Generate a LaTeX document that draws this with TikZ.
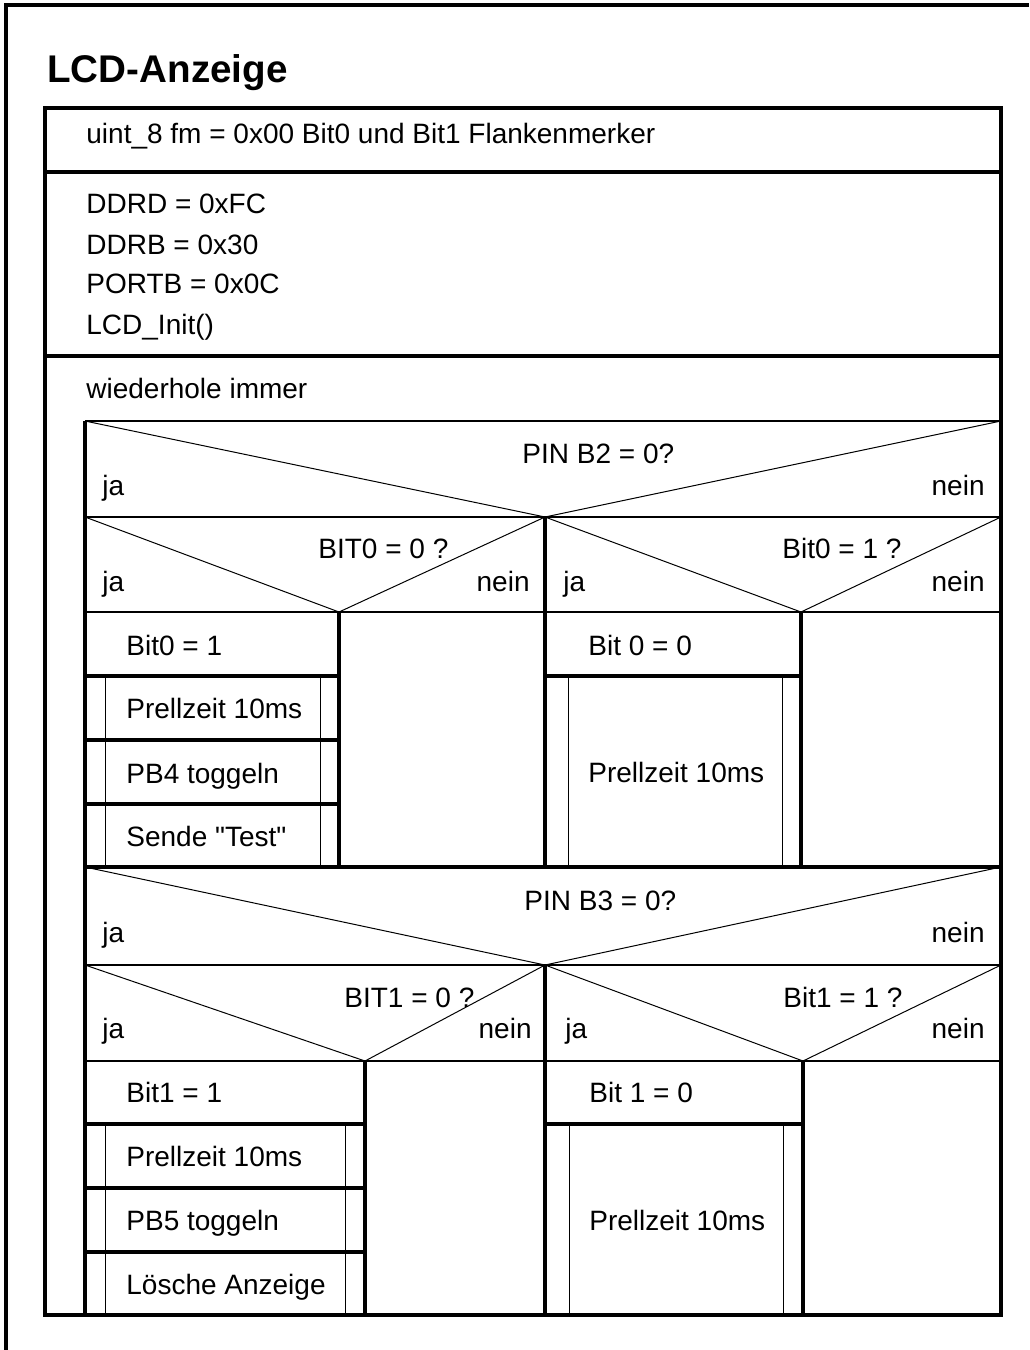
\documentclass[tikz,border=0pt]{standalone}
\usepackage{fontspec}
\setmainfont{Liberation Sans}[Ligatures=TeXOff]
\usepackage{tikz}
\usetikzlibrary{positioning, calc}
\tikzset{
  nsframe/.style={line width=1.6pt, line cap=rect},
  nsbar/.style={line width=1.6pt},
  nsmid/.style={line width=1pt},
  nsthin/.style={line width=0.5pt},
  nstext/.style={font=\fontsize{14}{16}\selectfont, inner sep=0pt},
  nstitle/.style={font=\fontsize{19.3}{22}\selectfont\bfseries, inner sep=0pt},
}

\begin{document}
\begin{tikzpicture}[x=0.5pt, y=-0.5pt]
  \useasboundingbox (0,0) rectangle (1029,1350);

  % Page frame (cut at right and bottom)
  \draw[nsbar] (6,1350) -- (6,5) -- (1029,5);

  % Title
  \node[nstitle, anchor=base west] (title) at (47,82) {LCD-Anzeige};

  % Main block
  \draw[nsframe] (45,108) rectangle (1001,1315);
  \draw[nsbar] (45,172) -- (1001,172);
  \draw[nsbar] (45,356) -- (1001,356);
  \node[nstext, anchor=base west] (decl) at (86,143)
    {uint\_8 fm = 0x00 Bit0 und Bit1 Flankenmerker};
  \node[nstext, anchor=base west] (ddrd) at (86,213) {DDRD = 0xFC};
  \node[nstext, anchor=base west] (ddrb) at (86,254) {DDRB = 0x30};
  \node[nstext, anchor=base west] (portb) at (86,293) {PORTB = 0x0C};
  \node[nstext, anchor=base west] (lcdinit) at (86,334) {LCD\_Init()};

  % Loop
  \node[nstext, anchor=base west] (loop) at (86,398) {wiederhole immer};
  \draw[nsmid] (85,421) -- (1001,421);
  \draw[nsbar] (85,421) -- (85,1315);

  % Decision PIN B2
  \draw[nsthin] (85,421) -- (545,517) -- (1001,421);
  \draw[nsmid] (85,517) -- (1001,517);
  \node[nstext, anchor=base west] (pinbtwo) at (522,463) {PIN B2 = 0?};
  \node[nstext, anchor=base west] (pinbtwoja) at (102,495) {ja};
  \node[nstext, anchor=base east] (pinbtwonein) at (985,495) {nein};
  \draw[nsbar] (545,517) -- (545,867);

  % Decision BIT0 = 0 / Bit0 = 1
  \draw[nsthin] (85,517) -- (339,612) -- (545,517);
  \draw[nsthin] (545,517) -- (801,612) -- (1001,517);
  \draw[nsmid] (85,612) -- (1001,612);
  \node[nstext, anchor=base west] (bitzeroa) at (318,558) {BIT0 = 0 ?};
  \node[nstext, anchor=base west] (bitzeroaja) at (102,591) {ja};
  \node[nstext, anchor=base east] (bitzeroanein) at (530,591) {nein};
  \node[nstext, anchor=base west] (bitzerob) at (782,558) {Bit0 = 1 ?};
  \node[nstext, anchor=base west] (bitzerobja) at (563,591) {ja};
  \node[nstext, anchor=base east] (bitzerobnein) at (985,591) {nein};
  \draw[nsbar] (339,612) -- (339,867);
  \draw[nsbar] (801,612) -- (801,867);

  % ja-branch left
  \foreach \yy in {676,740,804}
    \draw[nsbar] (85,\yy) -- (339,\yy);
  \draw[nsthin] (105,676) -- (105,867);
  \draw[nsthin] (320,676) -- (320,867);
  \node[nstext, anchor=base west] (setbitzero) at (126,655) {Bit0 = 1};
  \node[nstext, anchor=base west] (prella) at (126,718) {Prellzeit 10ms};
  \node[nstext, anchor=base west] (pbfour) at (126,783) {PB4 toggeln};
  \node[nstext, anchor=base west] (sende) at (126,846) {Sende "Test"};

  % ja-branch right
  \draw[nsbar] (545,676) -- (801,676);
  \draw[nsthin] (568,676) -- (568,867);
  \draw[nsthin] (782,676) -- (782,867);
  \node[nstext, anchor=base west] (clrbitzero) at (588,655) {Bit 0 = 0};
  \node[nstext, anchor=base west] (prellb) at (588,782) {Prellzeit 10ms};

  \draw[nsbar] (85,867) -- (1001,867);

  % Decision PIN B3
  \draw[nsthin] (85,867) -- (545,965) -- (1001,867);
  \draw[nsmid] (85,965) -- (1001,965);
  \node[nstext, anchor=base west] (pinbthree) at (524,910) {PIN B3 = 0?};
  \node[nstext, anchor=base west] (pinbthreeja) at (102,942) {ja};
  \node[nstext, anchor=base east] (pinbthreenein) at (985,942) {nein};
  \draw[nsbar] (545,965) -- (545,1315);

  % Decision BIT1 = 0 / Bit1 = 1
  \draw[nsthin] (85,965) -- (365,1061) -- (545,965);
  \draw[nsthin] (545,965) -- (803,1061) -- (1001,965);
  \draw[nsmid] (85,1061) -- (1001,1061);
  \node[nstext, anchor=base west] (bitonea) at (344,1007) {BIT1 = 0 ?};
  \node[nstext, anchor=base west] (bitoneaja) at (102,1038) {ja};
  \node[nstext, anchor=base east] (bitoneanein) at (532,1038) {nein};
  \node[nstext, anchor=base west] (biteoneb) at (783,1007) {Bit1 = 1 ?};
  \node[nstext, anchor=base west] (bitonebja) at (565,1038) {ja};
  \node[nstext, anchor=base east] (bitonebnein) at (985,1038) {nein};
  \draw[nsbar] (365,1061) -- (365,1315);
  \draw[nsbar] (803,1061) -- (803,1315);

  % ja-branch left
  \foreach \yy in {1124,1188,1252}
    \draw[nsbar] (85,\yy) -- (365,\yy);
  \draw[nsthin] (105,1124) -- (105,1315);
  \draw[nsthin] (345,1124) -- (345,1315);
  \node[nstext, anchor=base west] (setbitone) at (126,1102) {Bit1 = 1};
  \node[nstext, anchor=base west] (prellc) at (126,1166) {Prellzeit 10ms};
  \node[nstext, anchor=base west] (pbfive) at (126,1230) {PB5 toggeln};
  \node[nstext, anchor=base west] (loesche) at (126,1294) {Lösche Anzeige};

  % ja-branch right
  \draw[nsbar] (545,1124) -- (803,1124);
  \draw[nsthin] (569,1124) -- (569,1315);
  \draw[nsthin] (783,1124) -- (783,1315);
  \node[nstext, anchor=base west] (clrbitone) at (589,1102) {Bit 1 = 0};
  \node[nstext, anchor=base west] (prelld) at (589,1230) {Prellzeit 10ms};
\end{tikzpicture}
\end{document}
